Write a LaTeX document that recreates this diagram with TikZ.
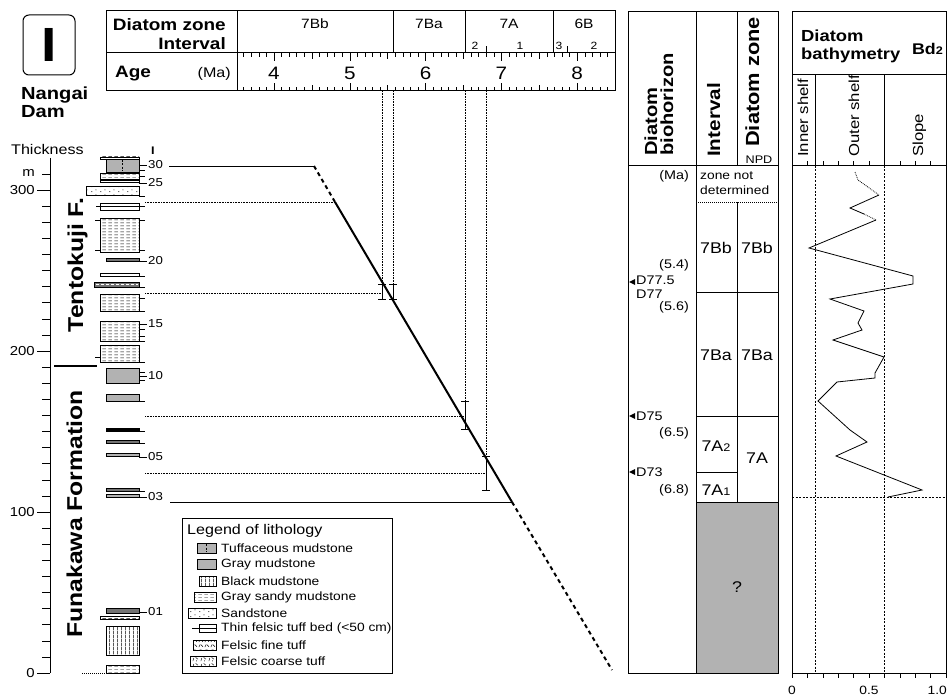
\documentclass[tikz,border=0pt]{standalone}
\usepackage{fontspec}
\setmainfont[FakeStretch=1.15]{Liberation Sans}
\usetikzlibrary{patterns}

\newcommand\fsz[1]{\fontsize{#1}{#1}\selectfont}

\pgfdeclarepatternformonly{sandymud}{\pgfpointorigin}{\pgfpoint{6pt}{3pt}}{\pgfpoint{6pt}{3pt}}{%
  \pgfsetlinewidth{0.5pt}\pgfpathmoveto{\pgfpoint{0.5pt}{1.5pt}}\pgfpathlineto{\pgfpoint{4.5pt}{1.5pt}}\pgfusepath{stroke}}
\pgfdeclarepatternformonly{blackmud}{\pgfpointorigin}{\pgfpoint{4pt}{4pt}}{\pgfpoint{4pt}{4pt}}{%
  \pgfsetlinewidth{0.6pt}\pgfpathmoveto{\pgfpoint{2pt}{0pt}}\pgfpathlineto{\pgfpoint{2pt}{4pt}}\pgfusepath{stroke}}
\pgfdeclarepatternformonly{sandst}{\pgfpointorigin}{\pgfpoint{9pt}{5pt}}{\pgfpoint{9pt}{5pt}}{%
  \pgfpathcircle{\pgfpoint{2pt}{1.5pt}}{0.6pt}\pgfpathcircle{\pgfpoint{6.5pt}{3.5pt}}{0.6pt}\pgfusepath{fill}}
\pgfdeclarepatternformonly{finetuff}{\pgfpointorigin}{\pgfpoint{6pt}{5pt}}{\pgfpoint{6pt}{5pt}}{%
  \pgfsetlinewidth{0.5pt}\pgfpathmoveto{\pgfpoint{1pt}{1pt}}\pgfpathlineto{\pgfpoint{2.5pt}{4pt}}%
  \pgfpathmoveto{\pgfpoint{3.5pt}{3.5pt}}\pgfpathlineto{\pgfpoint{5.5pt}{1.5pt}}\pgfusepath{stroke}}
\pgfdeclarepatternformonly{coarsetuff}{\pgfpointorigin}{\pgfpoint{8pt}{6pt}}{\pgfpoint{8pt}{6pt}}{%
  \pgfsetlinewidth{0.5pt}\pgfpathmoveto{\pgfpoint{1pt}{1pt}}\pgfpathlineto{\pgfpoint{2pt}{4.5pt}}%
  \pgfpathmoveto{\pgfpoint{4pt}{5pt}}\pgfpathlineto{\pgfpoint{6.5pt}{3pt}}\pgfusepath{stroke}%
  \pgfpathcircle{\pgfpoint{5pt}{1.2pt}}{0.5pt}\pgfusepath{fill}}

\begin{document}
\begin{tikzpicture}[x=1pt,y=-1pt,
  frame/.style={line width=1pt},
  hair/.style={line width=0.5pt},
  dotline/.style={densely dotted,line width=0.6pt},
  dashline/.style={dash pattern=on 2pt off 1.5pt,line width=0.6pt},
  ageline/.style={line width=2pt},
  ageext/.style={line width=2pt,dash pattern=on 4pt off 3.5pt},
  errbar/.style={line width=0.8pt},
  graymud/.style={draw,line width=0.6pt,fill=black!30},
  sandymud/.style={draw,line width=0.6pt,pattern=sandymud},
  blackmud/.style={draw,line width=0.6pt,pattern=blackmud},
  sandst/.style={draw,line width=0.6pt,pattern=sandst},
  darkbed/.style={draw,line width=0.6pt,fill=black!55},
  tuffbed/.style={draw,line width=0.6pt,fill=white},
  lbl/.style={inner sep=0pt,font=\fsz{13}},
  hdr/.style={inner sep=0pt,font=\bfseries\fsz{16.5}},
  tbl/.style={inner sep=0pt,font=\fsz{15.5}},
  tsm/.style={inner sep=0pt,font=\fsz{12.5}},
  vhdr/.style={inner sep=0pt,rotate=90,anchor=base west,font=\bfseries\fsz{18}},
  vlbl/.style={inner sep=0pt,rotate=90,anchor=base west,font=\fsz{14.5}}]
\useasboundingbox (0,0) rectangle (948,698);

\draw[line width=1pt,rounded corners=6pt] (23,15) rectangle (75,75);
\node[inner sep=0pt,font=\bfseries\fsz{48}] (sect) at (49,45) {I};
\node[inner sep=0pt,anchor=base west,font=\bfseries\fsz{17.5}] (site1) at (21,100) {Nangai};
\node[inner sep=0pt,anchor=base west,font=\bfseries\fsz{17.5}] (site2) at (21,118) {Dam};

\draw[frame] (106,11) rectangle (615,91);
\draw[frame] (106,53) -- (615,53) (237,11) -- (237,91);
\foreach \x in {393,465,553} \draw[frame] (\x,11) -- (\x,53);
\foreach \x in {486,567} \draw[hair] (\x,53) -- (\x,46);
\node[hdr,anchor=base east] (hzone) at (226,31) {Diatom zone};
\node[hdr,anchor=base east] (hint) at (226,50) {Interval};
\node[hdr,anchor=base west] (hage) at (115,78) {Age};
\node[inner sep=0pt,anchor=base east,font=\fsz{14}] (hma) at (231,78) {(Ma)};
\foreach \x/\z in {315/7Bb,429/7Ba,509/7A,584/6B}
  \node[inner sep=0pt,anchor=base,font=\fsz{13.5}] (zn\z) at (\x,29) {\z};
\foreach \x/\s [count=\i] in {475/2,520/1,559/3,594/2}
  \node[inner sep=0pt,anchor=base,font=\fsz{10.5}] (sz\i) at (\x,50) {\s};
\foreach \k in {36,...,84}
  \draw[hair] ({274+(\k/10-4)*75.8},53) -- ++(0,4) ({274+(\k/10-4)*75.8},91) -- ++(0,-4);
\foreach \a in {4.5,5.5,6.5,7.5}
  \draw[hair] ({274+(\a-4)*75.8},53) -- ++(0,6) ({274+(\a-4)*75.8},91) -- ++(0,-6);
\foreach \a in {4,...,8} {
  \draw[hair] ({274+(\a-4)*75.8},53) -- ++(0,8) ({274+(\a-4)*75.8},91) -- ++(0,-8);
  \node[inner sep=0pt,anchor=base,font=\fsz{18}] (age\a) at ({274+(\a-4)*75.8},80) {\a};
}

\node[inner sep=0pt,anchor=base west,font=\fsz{14}] (thk) at (11,154) {Thickness};
\node[inner sep=0pt,anchor=base,font=\bfseries\fsz{11}] (colI) at (153,155) {I};
\draw[frame] (50,158) -- (50,673);
\foreach \m in {0,10,...,310} \draw[hair] (42,{673-1.61*\m}) -- (50,{673-1.61*\m});
\foreach \m in {0,100,200,300} {
  \draw[hair] (37,{673-1.61*\m}) -- (50,{673-1.61*\m});
  \node[lbl,anchor=east] (ax\m) at (35,{673-1.61*\m}) {\m};
}
\node[lbl,anchor=east] (axm) at (35,173) {m};
\draw[line width=1.2pt] (54,366) -- (97,366);
\node[inner sep=0pt,rotate=90,anchor=base,font=\bfseries\fsz{21.5}] (fmT) at (83,265) {Tentokuji F.};
\node[inner sep=0pt,rotate=90,anchor=base,font=\bfseries\fsz{21.5}] (fmF) at (82,514) {Funakawa Formation};

\foreach \ya/\yb in {157/159,173/179,180/182,218/252,294/311,321/341,345/362,616/619}
  \draw[sandymud] (100,\ya) rectangle (139,\yb);
\foreach \ya/\yb in {368/383,394/401,453/456,494/497}
  \draw[graymud] (106,\ya) rectangle (139,\yb);
\foreach \ya/\yb in {258/261,440/443,488/491,608/613}
  \draw[darkbed] (106,\ya) rectangle (139,\yb);
\draw[graymud] (106,159) rectangle (139,172);
\draw[dashline] (122,160) -- (122,171);
\draw[sandst] (86,186) rectangle (139,195);
\draw[tuffbed] (100,203) rectangle (139,210);
\draw[hair] (96,206.5) -- (145,206.5);
\draw[tuffbed] (100,273) rectangle (139,276);
\draw[darkbed] (94,282) rectangle (139,287);
\draw[line width=0.4pt,white,dash pattern=on 3pt off 2pt] (96,284.5) -- (138,284.5);
\draw[line width=1pt,fill=black] (106,428) rectangle (139,431);
\draw[blackmud] (106,626) rectangle (139,655);
\draw[sandymud] (106,665) rectangle (139,673);
\draw[hair,dash pattern=on 1pt off 1pt] (82,673) -- (106,673);
\foreach \y in {170,176,196,220,250,276,287,298,311,329,336,341,362,372,380,401,431,443,491}
  \draw[hair] (139,\y) -- (145,\y);
\foreach \y in {220,250,357} \draw[hair] (95,\y) -- (100,\y);
\foreach \y/\t in {165/30,183/25,261/20,324/15,376/10,457/05,497/03,612/01} {
  \draw[hair] (139,\y) -- (147,\y);
  \node[inner sep=0pt,anchor=west,font=\fsz{11.5}] (bed\t) at (148,\y) {\t};
}

\coordinate (topx) at (314,166);
\coordinate (top) at (335,202);
\coordinate (bot) at (512,502);
\coordinate (botx) at (612,670);
\draw[hair] (169,166) -- (topx);
\draw[hair] (170,502) -- (bot);
\draw[ageline] (top) -- (bot);
\draw[ageext] (topx) -- (top);
\draw[ageext] (bot) -- (botx);
\draw[dotline] (145,202) -- (top);
\foreach \x/\y in {382/293,393/293,465/416,486/473} \draw[dotline] (\x,91) -- (\x,\y);
\foreach \x/\y in {382/293,465/416,486/473} \draw[dotline] (145,\y) -- (\x,\y);
\foreach \x/\ya/\yb in {382/284/299,393/284/299,465/401/429,486/456/490}
  \draw[errbar] (\x,\ya) -- (\x,\yb) (\x-4,\ya) -- (\x+4,\ya) (\x-4,\yb) -- (\x+4,\yb);

\draw[line width=0.8pt,fill=white] (182,518) rectangle (392,673);
\node[inner sep=0pt,anchor=west,font=\fsz{14}] (legT) at (187,531) {Legend of lithology};
\foreach \y/\t [count=\i] in {548/Tuffaceous mudstone,564/Gray mudstone,581/Black mudstone,597/Gray sandy mudstone,613/Sandstone,628/Thin felsic tuff bed (<50 cm),645/Felsic fine tuff,661/Felsic coarse tuff}
  \node[inner sep=0pt,anchor=west,font=\fsz{12}] (leg\i) at (221,\y) {\t};
\draw[graymud] (197,543) rectangle (216,553);
\draw[dashline] (206.5,544) -- (206.5,552);
\draw[graymud] (197,559) rectangle (216,569);
\draw[blackmud] (199,576) rectangle (216,586);
\draw[sandymud] (194,592) rectangle (216,602);
\draw[sandst] (188,608) rectangle (216,618);
\draw[tuffbed] (199,624.5) rectangle (216,632.5);
\draw[hair] (192,628.5) -- (216,628.5);
\draw[draw,line width=0.6pt,pattern=finetuff] (193,640) rectangle (216,650);
\draw[draw,line width=0.6pt,pattern=coarsetuff] (190,656) rectangle (216,666);

\fill[black!30] (696,502) rectangle (778,673);
\draw[frame] (628,12) rectangle (778,673);
\draw[frame] (628,166) -- (778,166) (696,12) -- (696,673) (737,12) -- (737,166) (737,202) -- (737,502);
\draw[frame] (696,292) -- (778,292) (696,416) -- (778,416) (696,472) -- (737,472) (696,502) -- (778,502);
\draw[dotline,line width=1pt] (696,202) -- (778,202);
\node[vhdr,font=\bfseries\fsz{17.5}] (hbio1) at (657,156) {Diatom};
\node[vhdr,font=\bfseries\fsz{17.5}] (hbio2) at (673,156) {biohorizon};
\node[vhdr] (hint2) at (720,157) {Interval};
\node[vhdr,font=\bfseries\fsz{19}] (hzone2) at (759,147) {Diatom zone};
\node[inner sep=0pt,font=\fsz{11}] (npd) at (759,160) {NPD};
\node[tsm,anchor=east] (tma) at (689,176) {(Ma)};
\node[inner sep=0pt,anchor=west,font=\fsz{12}] (znd1) at (700,176) {zone not};
\node[inner sep=0pt,anchor=west,font=\fsz{12}] (znd2) at (700,190) {determined};
\node[tbl] (i7Bb) at (716,248) {7Bb};
\node[tbl] (z7Bb) at (757,248) {7Bb};
\node[tbl] (i7Ba) at (716,355) {7Ba};
\node[tbl] (z7Ba) at (757,355) {7Ba};
\node[tbl] (i7A2) at (716,446) {7A{\fsz{11}2}};
\node[tbl] (z7A) at (757,458) {7A};
\node[tbl] (i7A1) at (716,490) {7A{\fsz{11}1}};
\node[tbl] (unk) at (737,587) {?};
\foreach \y in {282,416,472} \fill (629,\y) -- (635,\y-3) -- (635,\y+3) -- cycle;
\node[tsm,anchor=east] (a54) at (689,265) {(5.4)};
\node[tsm,anchor=west] (d775) at (636,280) {D77.5};
\node[tsm,anchor=west] (d77) at (636,294) {D77};
\node[tsm,anchor=east] (a56) at (689,307) {(5.6)};
\node[tsm,anchor=west] (d75) at (636,416) {D75};
\node[tsm,anchor=east] (a65) at (689,433) {(6.5)};
\node[tsm,anchor=west] (d73) at (636,472) {D73};
\node[tsm,anchor=east] (a68) at (689,490) {(6.8)};

\draw[frame] (792,12) rectangle (946,673);
\draw[frame] (792,75) -- (946,75) (792,166) -- (946,166);
\draw[hair] (815,75) -- (815,166) (884,75) -- (884,166);
\draw[dashline] (815,166) -- (815,673) (884,166) -- (884,673) (792,497) -- (946,497);
\foreach \k in {1,...,9} \draw[hair] ({792+15.4*\k},166) -- ++(0,-5);
\foreach \k in {0,...,10} \draw[hair] ({792+15.4*\k},673) -- ++(0,5);
\node[inner sep=0pt,anchor=base west,font=\bfseries\fsz{16}] (bat1) at (801,42) {Diatom};
\node[inner sep=0pt,anchor=base west,font=\bfseries\fsz{16}] (bat2) at (801,60) {bathymetry};
\node[inner sep=0pt,anchor=base east,font=\bfseries\fsz{15.5}] (bd) at (943,55) {Bd{\fsz{11}2}};
\node[vlbl] (inner) at (808,157) {Inner shelf};
\node[vlbl] (outer) at (859,157) {Outer shelf};
\node[vlbl] (slope) at (923,157) {Slope};
\node[tsm,anchor=base,font=\fsz{12}] (b0) at (792,694) {0};
\node[tsm,anchor=base,font=\fsz{12}] (b05) at (869,694) {0.5};
\node[tsm,anchor=base east,font=\fsz{12}] (b10) at (947,694) {1.0};
\draw[dotline,line width=0.8pt] (855,172) -- (858,180) -- (879,195);
\draw[line width=0.8pt] (879,195) -- (850,208) -- (864,214);
\draw[dotline,line width=0.8pt] (864,214) -- (876,220);
\draw[line width=0.8pt] (876,220) -- (809,248) -- (913,276) -- (913,284) -- (830,299) -- (864,311)
  -- (858,323) -- (862,330) -- (833,340) -- (884,357) -- (875,373) -- (875,378) -- (837,382)
  -- (818,401) -- (850,430) -- (867,442) -- (836,456) -- (922,490) -- (888,497);
\end{tikzpicture}
\end{document}
